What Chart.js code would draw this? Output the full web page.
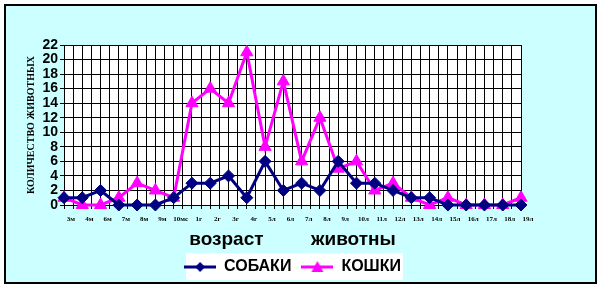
<!DOCTYPE html>
<html>
<head>
<meta charset="utf-8">
<script src="https://cdn.jsdelivr.net/npm/chart.js@4/dist/chart.umd.min.js"></script>
<style>
  html, body { margin: 0; padding: 0; background: #fff; }
  #wrap { width: 602px; height: 289px; }
</style>
</head>
<body>
<div id="wrap"><canvas id="ageChart" width="602" height="289"></canvas></div>
<script>
// age groups along the x axis
const ageLabels = ['3м', '4м', '6м', '7м', '8м', '9м', '10мс', '1г', '2г', '3г', '4г', '5л', '6л', '7л', '8л', '9л', '10л', '11л', '12л', '13л', '14л', '15л', '16л', '17л', '18л', '19л'];
// number of animals per age
const dogs = [1, 1, 2, 0, 0, 0, 1, 3, 3, 4, 1, 6, 2, 3, 2, 6, 3, 3, 2, 1, 1, 0, 0, 0, 0, 0];
const cats = [1, 0, 0, 1, 3, 2, 1, 14, 16, 14, 21, 8, 17, 6, 12, 5, 6, 2, 3, 1, 0, 1, 0, 0, 0, 1];
const yTicks = [0, 2, 4, 6, 8, 10, 12, 14, 16, 18, 20, 22];

const NAVY = '#000080';
const PINK = '#FF00FF';

// little line+marker pictures for the legend
function legendIcon(color, shape) {
  const c = document.createElement('canvas');
  c.width = 32; c.height = 14;
  const g = c.getContext('2d');
  g.strokeStyle = color;
  g.lineWidth = 3;
  g.beginPath(); g.moveTo(0, 7); g.lineTo(32, 7); g.stroke();
  g.fillStyle = color;
  g.beginPath();
  if (shape === 'diamond') {
    g.moveTo(16, 2); g.lineTo(21, 7); g.lineTo(16, 12); g.lineTo(11, 7);
  } else {
    g.moveTo(16, 1); g.lineTo(22, 12); g.lineTo(10, 12);
  }
  g.closePath(); g.fill();
  return c;
}

const backdrop = {
  id: 'backdrop',
  beforeDraw(chart) {
    const ctx = chart.ctx;
    const a = chart.chartArea;
    ctx.save();
    ctx.fillStyle = '#fff';
    ctx.fillRect(0, 0, chart.width, chart.height);
    ctx.fillStyle = '#CCFFFF';
    ctx.fillRect(5, 5, 591, 278);
    ctx.strokeStyle = '#000';
    ctx.lineWidth = 2;
    ctx.strokeRect(5, 5, 591, 278);
    ctx.fillStyle = '#fff';
    ctx.fillRect(a.left, a.top, a.right - a.left, a.bottom - a.top);
    ctx.fillRect(186, 253, 217, 27);
    ctx.restore();
  }
};

const pts = arr => arr.map((v, i) => ({ x: i, y: v }));

new Chart(document.getElementById('ageChart'), {
  type: 'line',
  data: {
    datasets: [
      {
        label: 'СОБАКИ',
        data: pts(dogs),
        borderColor: NAVY,
        backgroundColor: NAVY,
        borderWidth: 3,
        pointStyle: 'rectRot',
        pointRadius: 6,
        pointBorderWidth: 1,
        clip: false
      },
      {
        label: 'КОШКИ',
        data: pts(cats),
        borderColor: PINK,
        backgroundColor: PINK,
        borderWidth: 3,
        pointStyle: 'triangle',
        pointRadius: 7,
        pointBorderWidth: 1,
        clip: false
      }
    ]
  },
  options: {
    responsive: false,
    animation: false,
    layout: { padding: { top: 45, right: 81, bottom: 4, left: 0 } },
    scales: {
      x: {
        type: 'linear',
        min: 0,
        max: ageLabels.length - 1,
        afterFit: s => { s.height = 44; },
        grid: { color: '#000', lineWidth: 1, tickLength: 4, tickColor: '#000' },
        border: { color: '#000', width: 1 },
        ticks: {
          stepSize: 0.5,
          autoSkip: false,
          maxRotation: 0,
          labelOffset: 7,
          padding: 6,
          color: '#000',
          font: { family: '"Liberation Serif", "Times New Roman", serif', size: 7, weight: 'bold' },
          callback: v => Number.isInteger(v) ? ageLabels[v] : ''
        },
        title: {
          display: true,
          text: 'возраст         животны',
          color: '#000',
          font: { family: '"Liberation Sans", Arial, sans-serif', size: 19, weight: 'bold', lineHeight: 1 },
          padding: { top: 0, bottom: 0 }
        }
      },
      y: {
        min: 0,
        max: 22,
        afterFit: s => { s.width = 64; },
        afterBuildTicks: s => { s.ticks = yTicks.map(v => ({ value: v })); },
        grid: { color: '#000', lineWidth: 1, tickLength: 4, tickColor: '#000' },
        border: { color: '#000', width: 1 },
        ticks: {
          autoSkip: false,
          padding: 2,
          color: '#000',
          font: { family: '"Liberation Sans", Arial, sans-serif', size: 14, weight: 'bold' }
        },
        title: {
          display: true,
          text: 'КОЛИЧЕСТВО ЖИВОТНЫХ',
          color: '#000',
          font: { family: '"Liberation Serif", "Times New Roman", serif', size: 10, weight: 'bold', lineHeight: 1.2 },
          padding: { top: 25, bottom: 0 }
        }
      }
    },
    plugins: {
      tooltip: { enabled: false },
      legend: {
        position: 'bottom',
        fullSize: false,
        labels: {
          usePointStyle: true,
          pointStyleWidth: 32,
          padding: 10,
          color: '#000',
          font: { family: '"Liberation Sans", Arial, sans-serif', size: 16, weight: 'bold' },
          generateLabels: chart => chart.data.datasets.map((ds, i) => ({
            text: ds.label,
            datasetIndex: i,
            fontColor: '#000',
            lineWidth: 0,
            pointStyle: legendIcon(ds.borderColor, i === 0 ? 'diamond' : 'triangle')
          }))
        }
      }
    }
  },
  plugins: [backdrop]
});
</script>
</body>
</html>
